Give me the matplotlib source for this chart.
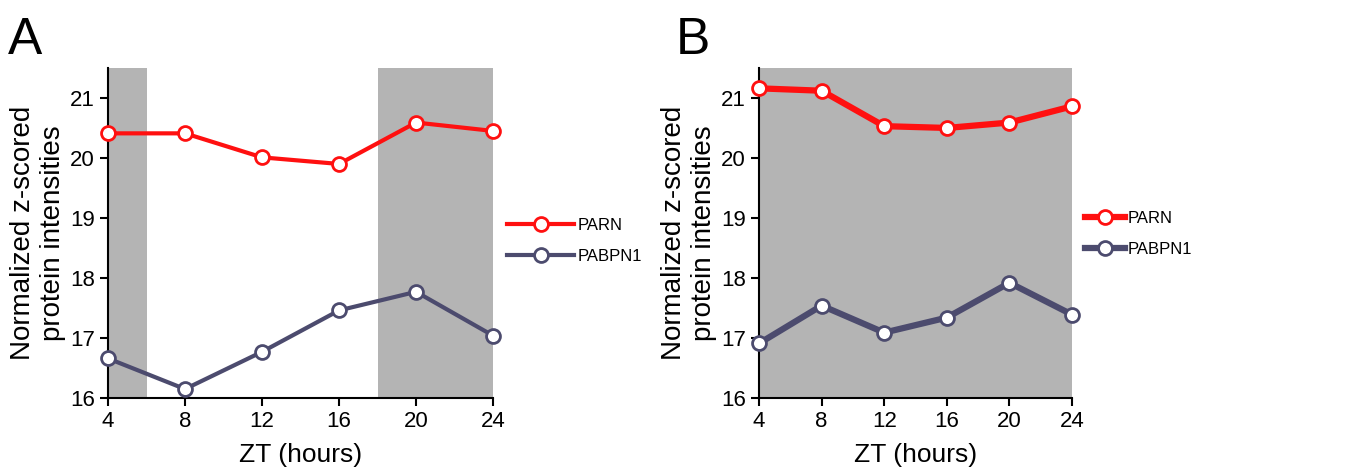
import matplotlib
matplotlib.use("Agg")
import matplotlib.pyplot as plt

plt.rcParams['font.family'] = ['Liberation Sans', 'DejaVu Sans']

zt = [4, 8, 12, 16, 20, 24]
parn_a = [20.41, 20.41, 20.01, 19.90, 20.59, 20.45]
pabpn1_a = [16.66, 16.15, 16.77, 17.46, 17.77, 17.04]
parn_b = [21.16, 21.12, 20.53, 20.50, 20.59, 20.86]
pabpn1_b = [16.91, 17.54, 17.09, 17.34, 17.92, 17.39]
dark_a = [(4, 6), (18, 24)]
dark_b = [(4, 24)]

RED = '#ff1010'
NAVY = '#4c4b6e'
GRAY = '#b4b4b4'

fig = plt.figure(figsize=(13.62, 4.75), dpi=100)
axA = fig.add_axes([0.0793, 0.162, 0.2827, 0.695])
axB = fig.add_axes([0.5573, 0.162, 0.2298, 0.695])


def draw(ax, parn, pabpn1, dark, lw, legy, hlen, pad):
    for x0, x1 in dark:
        ax.axvspan(x0, x1, color=GRAY, lw=0, zorder=0)
    ax.plot(zt, parn, '-o', color=RED, lw=lw, ms=10, mfc='white', mec=RED,
            mew=2, label='PARN', clip_on=False, zorder=3)
    ax.plot(zt, pabpn1, '-o', color=NAVY, lw=lw, ms=10, mfc='white', mec=NAVY,
            mew=2, label='PABPN1', clip_on=False, zorder=3)
    ax.set_xlim(4, 24)
    ax.set_ylim(16, 21.5)
    ax.set_xticks(zt)
    ax.set_yticks([16, 17, 18, 19, 20, 21])
    for s in ['top', 'right']:
        ax.spines[s].set_visible(False)
    for s in ['left', 'bottom']:
        ax.spines[s].set_linewidth(1.5)
    ax.tick_params(direction='out', length=6, width=1.5, labelsize=16)
    ax.set_xlabel('ZT (hours)', fontsize=19, labelpad=8)
    ax.set_ylabel('Normalized z-scored\nprotein intensities', fontsize=20,
                  linespacing=1.2, labelpad=3)
    ax.legend(loc='center left', bbox_to_anchor=(1.02, legy), frameon=False,
              fontsize=12, handlelength=hlen, handletextpad=pad,
              labelspacing=1.0, borderaxespad=0)


draw(axA, parn_a, pabpn1_a, dark_a, 3, 0.476, 4.0, 0.2)
draw(axB, parn_b, pabpn1_b, dark_b, 4.5, 0.497, 2.4, 0.15)

fig.text(0.006, 0.967, 'A', fontsize=37, va='top')
fig.text(0.496, 0.967, 'B', fontsize=37, va='top')

fig.savefig('out.png', dpi=100)
